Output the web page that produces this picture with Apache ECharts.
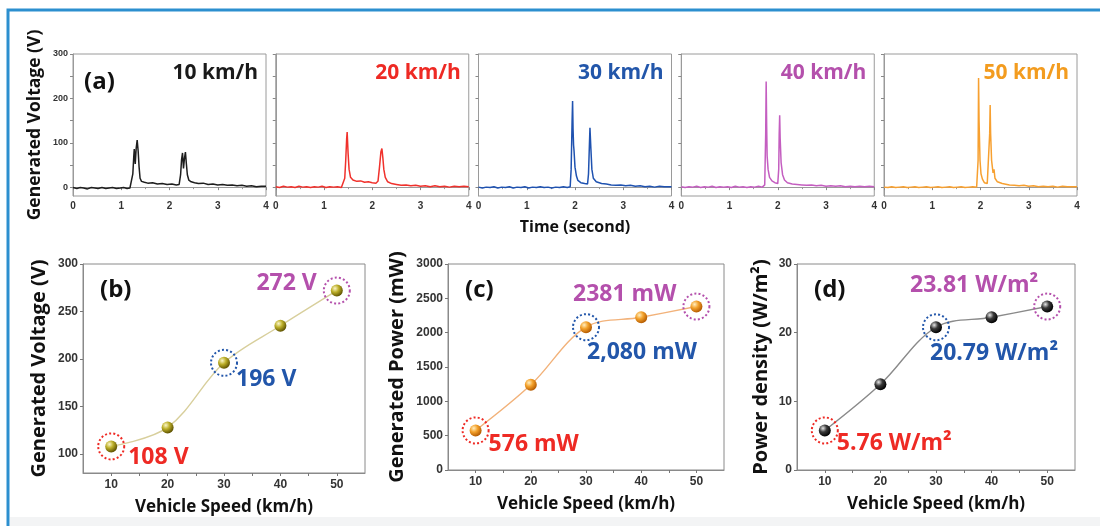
<!DOCTYPE html>
<html>
<head>
<meta charset="utf-8">
<script src="https://cdn.jsdelivr.net/npm/echarts@6/dist/echarts.min.js"></script>
<style>
  html, body { margin: 0; padding: 0; background: #ffffff; }
  #chart { width: 1100px; height: 526px; }
</style>
</head>
<body>
<div id="chart"></div>
<script>
// ---- (a) voltage traces, [time (s), voltage (V)] ----
const speedLabels = ['10 km/h', '20 km/h', '30 km/h', '40 km/h', '50 km/h'];

const trace10 = [
  [0,-1],[0.08,-3],[0.15,-1],[0.22,-2],[0.3,-4],[0.38,-1],[0.45,-2],[0.52,-3],[0.6,-1],[0.68,-3],
  [0.75,-2],[0.82,-1],[0.9,-3],[0.98,-2],[1.05,-1],[1.12,-3],[1.18,-2],[1.21,2],[1.24,30],[1.26,70],
  [1.27,86],[1.29,52],[1.31,88],[1.33,106],[1.35,82],[1.37,45],[1.39,20],[1.42,13],[1.48,11],[1.55,9],
  [1.65,10],[1.75,7],[1.85,8],[1.95,6],[2.05,7],[2.14,5],[2.2,6],[2.23,28],[2.25,62],[2.27,77],
  [2.29,42],[2.31,65],[2.33,79],[2.35,52],[2.37,28],[2.4,16],[2.45,12],[2.52,10],[2.6,8],[2.7,9],
  [2.8,6],[2.9,7],[3.0,5],[3.1,6],[3.2,4],[3.3,5],[3.4,3],[3.5,4],[3.6,2],[3.7,3],[3.8,1],[3.9,2],[4.0,2]
];
const trace20 = [
  [0,1],[0.08,-1],[0.16,2],[0.24,0],[0.32,1],[0.4,-1],[0.48,2],[0.56,0],[0.64,1],[0.72,-1],
  [0.8,1],[0.88,0],[0.96,2],[1.04,-1],[1.12,1],[1.2,0],[1.28,1],[1.36,-1],[1.4,1],[1.43,20],
  [1.45,60],[1.47,110],[1.48,124],[1.5,75],[1.52,40],[1.55,22],[1.6,16],[1.68,13],[1.76,14],[1.84,11],
  [1.92,12],[2.0,10],[2.08,9],[2.12,14],[2.15,45],[2.18,80],[2.2,87],[2.22,66],[2.24,40],[2.27,22],
  [2.32,12],[2.4,8],[2.5,6],[2.6,4],[2.7,5],[2.8,3],[2.9,4],[3.0,2],[3.1,3],[3.2,1],
  [3.3,3],[3.4,1],[3.5,2],[3.6,0],[3.7,2],[3.8,1],[3.9,2],[4.0,1]
];
const trace30 = [
  [0,0],[0.08,-2],[0.16,0],[0.24,-1],[0.32,1],[0.4,-2],[0.48,0],[0.56,-1],[0.64,1],[0.72,-2],
  [0.8,0],[0.88,-1],[0.96,1],[1.04,-2],[1.12,0],[1.2,-1],[1.28,1],[1.36,-1],[1.44,0],[1.52,-2],
  [1.6,0],[1.68,-1],[1.76,1],[1.84,-1],[1.9,1],[1.92,40],[1.94,150],[1.95,194],[1.96,130],[1.97,95],
  [1.98,82],[2.0,45],[2.03,25],[2.06,15],[2.12,10],[2.2,8],[2.26,7],[2.28,30],[2.3,100],[2.31,134],
  [2.33,85],[2.35,40],[2.38,20],[2.44,12],[2.55,8],[2.65,7],[2.75,5],[2.85,4],[2.95,5],[3.05,3],
  [3.15,4],[3.25,2],[3.35,3],[3.45,1],[3.55,2],[3.65,0],[3.75,2],[3.85,1],[4.0,1]
];
const trace40 = [
  [0,1],[0.08,-1],[0.16,1],[0.24,0],[0.32,2],[0.4,-1],[0.48,1],[0.56,0],[0.64,2],[0.72,-1],
  [0.8,1],[0.88,0],[0.96,1],[1.04,-1],[1.12,2],[1.2,0],[1.28,1],[1.36,-1],[1.44,1],[1.52,0],
  [1.6,2],[1.68,0],[1.72,1],[1.73,5],[1.75,120],[1.76,238],[1.77,140],[1.78,70],[1.8,40],[1.83,22],
  [1.88,14],[1.94,10],[2.0,8],[2.02,40],[2.03,120],[2.04,162],[2.05,110],[2.07,55],[2.1,28],[2.14,16],
  [2.2,10],[2.3,7],[2.4,6],[2.5,5],[2.6,4],[2.7,5],[2.8,3],[2.9,4],[3.0,2],[3.1,3],
  [3.2,2],[3.3,3],[3.4,1],[3.5,2],[3.6,1],[3.7,2],[3.8,1],[3.9,2],[4.0,1]
];
const trace50 = [
  [0,0],[0.08,-1],[0.16,1],[0.24,-1],[0.32,0],[0.4,1],[0.48,-1],[0.56,0],[0.64,1],[0.72,-1],
  [0.8,0],[0.88,1],[0.96,-1],[1.04,0],[1.12,1],[1.2,-1],[1.28,0],[1.36,1],[1.44,-1],[1.52,0],
  [1.6,1],[1.68,-1],[1.76,0],[1.84,1],[1.92,0],[1.94,2],[1.95,60],[1.96,246],[1.97,150],[1.99,60],
  [2.01,30],[2.04,18],[2.08,10],[2.14,8],[2.17,12],[2.19,120],[2.2,185],[2.21,120],[2.23,60],[2.26,32],
  [2.28,40],[2.3,20],[2.35,12],[2.45,8],[2.6,5],[2.7,4],[2.8,3],[2.9,4],[3.0,2],[3.1,3],
  [3.2,1],[3.3,2],[3.4,1],[3.5,2],[3.6,0],[3.7,2],[3.8,1],[3.9,1],[4.0,1]
];
const traces = [trace10, trace20, trace30, trace40, trace50];
const timeTicks = [0, 1, 2, 3, 4];
const voltageTicks = [0, 100, 200, 300];

// ---- (b)-(d) summary values per vehicle speed ----
const speeds = [10, 20, 30, 40, 50];
const voltage = [108, 128, 196, 235, 272];
const power = [576, 1240, 2080, 2224, 2381];
const density = [5.76, 12.48, 20.79, 22.24, 23.81];
const highlighted = [0, 2, 4];   // 10, 30 and 50 km/h are ringed and labelled

// ---- styling ----
const traceColors = ['#1e1e1e', '#f0312c', '#1f52b0', '#c45ec0', '#f7a030'];
const speedTextColors = ['#1a1a1a', '#ee2a24', '#2256aa', '#b450ac', '#f39c1f'];
const ringColors = ['#ee2a24', '#2256aa', '#b450ac'];
const bodyFont = '"Open Sans", "Noto Sans", sans-serif';
const tickFont = '"Liberation Sans", Arial, sans-serif';

const chart = echarts.init(document.getElementById('chart'), null, { renderer: 'canvas' });

const grids = [], xAxes = [], yAxes = [], series = [], graphics = [];

// frame around the figure
graphics.push({ type: 'rect', z: 0, shape: { x: 10, y: 517, width: 1100, height: 12 }, style: { fill: '#f3f4f5' } });
graphics.push({ type: 'rect', z: 1, shape: { x: 8, y: 10, width: 1200, height: 600 }, style: { fill: 'none', stroke: '#2c8fcf', lineWidth: 3 } });

// ---- top row: five time-domain panels ----
for (let i = 0; i < 5; i++) {
  const left = 73 + i * 202.75;
  grids.push({ left: left, top: 54, width: 193, height: 142, show: true, borderColor: '#9a9a9a', borderWidth: 1, backgroundColor: '#fff' });
  xAxes.push({
    type: 'value', gridIndex: i, min: 0, max: 4, interval: 1, position: 'bottom',
    name: i === 2 ? 'Time (second)' : '', nameLocation: 'middle', nameGap: 23,
    nameTextStyle: { fontFamily: bodyFont, fontWeight: 'bold', fontSize: 16, color: '#111' },
    axisLine: { lineStyle: { color: '#9a9a9a' } },
    axisTick: { show: true, length: 3, lineStyle: { color: '#888' } },
    minorTick: { show: true, splitNumber: 2, length: 2, lineStyle: { color: '#999' } },
    axisLabel: { fontFamily: tickFont, fontWeight: 'bold', fontSize: 10, color: '#333', margin: 5, customValues: timeTicks },
    splitLine: { show: false }
  });
  yAxes.push({
    type: 'value', gridIndex: i, min: -20, max: 300,
    name: i === 0 ? 'Generated Voltage (V)' : '', nameLocation: 'middle', nameGap: 29,
    nameTextStyle: { fontFamily: bodyFont, fontWeight: 'bold', fontSize: 17.5, color: '#111' },
    axisLine: { show: true, lineStyle: { color: '#9a9a9a' } },
    axisTick: { show: true, length: 3, customValues: [0, 50, 100, 150, 200, 250, 300], lineStyle: { color: '#888' } },
    axisLabel: { show: i === 0, fontFamily: tickFont, fontWeight: 'bold', fontSize: 9, color: '#333', margin: 5, customValues: voltageTicks },
    splitLine: { show: false }
  });
  series.push({
    type: 'line', xAxisIndex: i, yAxisIndex: i, data: traces[i], showSymbol: false,
    lineStyle: { color: traceColors[i], width: 1.5 }, silent: true, z: 3
  });
  graphics.push({
    type: 'text', z: 10, x: left + 185, y: 73,
    style: { text: speedLabels[i], fill: speedTextColors[i], font: 'bold 21px ' + bodyFont, textAlign: 'right', textVerticalAlign: 'middle' }
  });
}
graphics.push({ type: 'text', z: 10, x: 84, y: 82, style: { text: '(a)', fill: '#111', font: 'bold 24px ' + bodyFont, textVerticalAlign: 'middle' } });

// ---- bottom row: speed-dependent summaries ----
function sphere(light, mid, dark) {
  return { type: 'radial', x: 0.35, y: 0.32, r: 0.7, colorStops: [
    { offset: 0, color: light }, { offset: 0.45, color: mid }, { offset: 1, color: dark } ] };
}

const panels = [
  { key: '(b)', left: 83, width: 282, top: 264, height: 209, values: voltage, yMin: 80, yMax: 300,
    yTicks: [100, 150, 200, 250, 300], yName: 'Generated Voltage (V)', nameGap: 34,
    line: '#d8cf9c', ball: sphere('#fbf6c8', '#bdb02a', '#5e5200'),
    fmt: [v => v + ' V', v => v + ' V', v => v + ' V'],
    lab: [{ position: 'right', offset: [3, 11] }, { position: 'right', offset: [-2, 17] }, { position: 'left', offset: [-6, -7] }] },
  { key: '(c)', left: 448, width: 276, top: 264, height: 206, values: power, yMin: 0, yMax: 3000,
    yTicks: [0, 500, 1000, 1500, 2000, 2500, 3000], yName: 'Generated Power (mW)', nameGap: 41,
    line: '#f2b27a', ball: sphere('#ffeec0', '#f4a22c', '#b45a00'),
    fmt: [v => v + ' mW', v => v.toLocaleString('en-US') + ' mW', v => v + ' mW'],
    lab: [{ position: 'right', offset: [-1, 14] }, { position: 'right', offset: [-13, 25] }, { position: 'left', offset: [-6, -12] }] },
  { key: '(d)', left: 797, width: 278, top: 264, height: 206, values: density, yMin: 0, yMax: 30,
    yTicks: [0, 10, 20, 30], yName: 'Power density (W/m²)', nameGap: 26,
    line: '#8a8a8a', ball: sphere('#e8e8e8', '#3a3a3a', '#000000'),
    fmt: [v => v + ' W/m²', v => v + ' W/m²', v => v + ' W/m²'],
    lab: [{ position: 'right', offset: [-2, 13] }, { position: 'right', offset: [-20, 26] }, { position: 'left', offset: [5, -21] }] }
];

panels.forEach((p, k) => {
  const gi = 5 + k;
  grids.push({ left: p.left, top: p.top, width: p.width, height: p.height, show: true, borderColor: '#8a8a8a', borderWidth: 1, backgroundColor: '#fff' });
  xAxes.push({
    type: 'value', gridIndex: gi, min: 5, max: 55,
    name: 'Vehicle Speed (km/h)', nameLocation: 'middle', nameGap: 26,
    nameTextStyle: { fontFamily: bodyFont, fontWeight: 'bold', fontSize: 17, color: '#111' },
    axisLine: { lineStyle: { color: '#8a8a8a' } },
    axisTick: { show: true, length: 3, customValues: [10, 15, 20, 25, 30, 35, 40, 45, 50], lineStyle: { color: '#777' } },
    axisLabel: { fontFamily: tickFont, fontWeight: 'bold', fontSize: 12, color: '#333', margin: 6, customValues: speeds },
    splitLine: { show: false }
  });
  yAxes.push({
    type: 'value', gridIndex: gi, min: p.yMin, max: p.yMax,
    name: p.yName, nameLocation: 'middle', nameGap: p.nameGap,
    nameTextStyle: { fontFamily: bodyFont, fontWeight: 'bold', fontSize: 20, color: '#111' },
    axisLine: { show: true, lineStyle: { color: '#8a8a8a' } },
    axisTick: { show: true, length: 3, customValues: p.yTicks, lineStyle: { color: '#777' } },
    axisLabel: { fontFamily: tickFont, fontWeight: 'bold', fontSize: 12, color: '#333', margin: 5, customValues: p.yTicks,
                 formatter: v => String(v) },
    splitLine: { show: false }
  });
  series.push({
    type: 'line', xAxisIndex: gi, yAxisIndex: gi, smooth: 0.35,
    data: speeds.map((s, i) => [s, p.values[i]]),
    symbol: 'circle', symbolSize: 12,
    itemStyle: { color: p.ball, borderWidth: 0 },
    lineStyle: { color: p.line, width: 1.4 }, z: 4
  });
  series.push({
    type: 'scatter', xAxisIndex: gi, yAxisIndex: gi, symbol: 'circle', symbolSize: 26, z: 5,
    itemStyle: { opacity: 1 },
    data: highlighted.map((idx, j) => ({
      value: [speeds[idx], p.values[idx]],
      itemStyle: { color: 'rgba(0,0,0,0)', opacity: 1, borderColor: ringColors[j], borderWidth: 2, borderType: [2, 2.2] },
      label: {
        show: true, position: p.lab[j].position, distance: 0, offset: p.lab[j].offset,
        formatter: (prm) => p.fmt[j](prm.value[1]),
        color: ringColors[j], fontFamily: bodyFont, fontWeight: 'bold', fontSize: 23
      }
    }))
  });
  graphics.push({ type: 'text', z: 10, x: p.left + 17, y: 290, style: { text: p.key, fill: '#111', font: 'bold 24px ' + bodyFont, textVerticalAlign: 'middle' } });
});

chart.setOption({
  backgroundColor: '#ffffff',
  animation: false,
  grid: grids,
  xAxis: xAxes,
  yAxis: yAxes,
  series: series,
  graphic: graphics
});
</script>
</body>
</html>
